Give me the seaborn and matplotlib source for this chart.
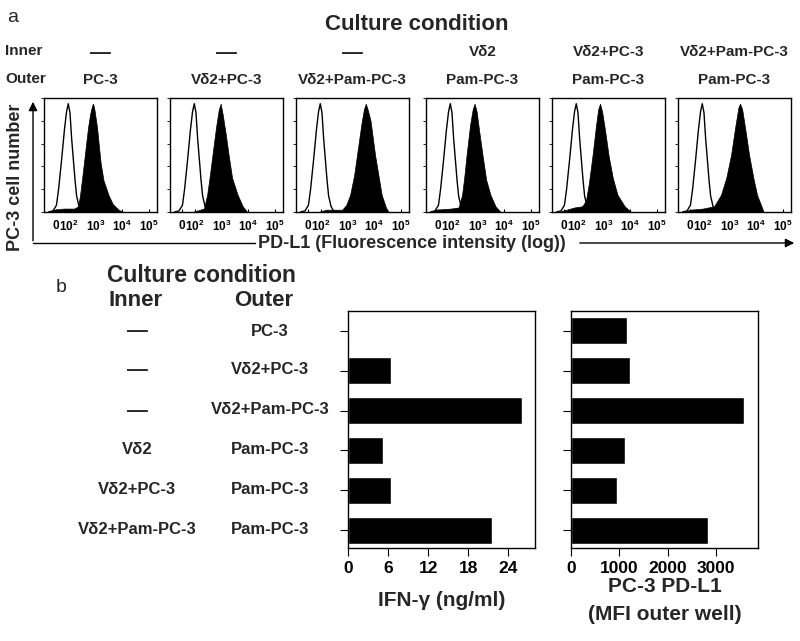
import numpy as np
import seaborn as sns
import matplotlib.pyplot as plt
from matplotlib.patches import FancyArrowPatch
from matplotlib.lines import Line2D

sns.set_style("ticks")
plt.rcParams['font.family'] = ['Liberation Sans', 'DejaVu Sans']
plt.rcParams['axes.edgecolor'] = 'black'
plt.rcParams['xtick.color'] = 'black'
plt.rcParams['ytick.color'] = 'black'
plt.rcParams['mathtext.fontset'] = 'custom'
plt.rcParams['mathtext.rm'] = 'Liberation Sans'
plt.rcParams['mathtext.bf'] = 'Liberation Sans:bold'

# culture conditions (same order in a and b)
inner_labels = ["—", "—", "—", "Vδ2", "Vδ2+PC-3", "Vδ2+Pam-PC-3"]
outer_labels = ["PC-3", "Vδ2+PC-3", "Vδ2+Pam-PC-3", "Pam-PC-3", "Pam-PC-3", "Pam-PC-3"]

# panel b values
ifn_gamma = [0.2, 6.5, 26.1, 5.2, 6.5, 21.5]
pdl1_mfi = [1150, 1215, 3575, 1110, 955, 2830]

# panel a flow histograms, x in decades (3 = 10^3), y = relative cell number
isotype_x = [1.23, 1.40, 1.53, 1.61, 1.72, 1.83, 1.91, 1.975, 2.04, 2.10, 2.17, 2.23, 2.29, 2.38, 2.46, 2.59]
isotype_y = [0.0, 0.01, 0.06, 0.20, 0.45, 0.72, 0.88, 0.95, 0.87, 0.65, 0.45, 0.28, 0.14, 0.05, 0.015, 0.0]

pdl1_x = [
    [1.25, 1.4, 1.8, 2.2, 2.35, 2.42, 2.50, 2.57, 2.65, 2.72, 2.80, 2.87, 2.91, 2.96, 3.06, 3.12, 3.19, 3.30, 3.49, 3.65, 3.87, 4.04],
    [1.9, 2.2, 2.34, 2.46, 2.55, 2.66, 2.80, 2.90, 2.97, 3.05, 3.15, 3.27, 3.40, 3.61, 3.80, 3.97],
    [1.9, 2.2, 2.80, 2.95, 3.10, 3.25, 3.36, 3.53, 3.62, 3.69, 3.76, 3.87, 4.04, 4.29, 4.45, 4.55],
    [1.3, 1.4, 2.0, 2.29, 2.42, 2.50, 2.59, 2.72, 2.82, 2.89, 2.97, 3.07, 3.19, 3.33, 3.49, 3.68, 3.87],
    [1.3, 1.91, 2.20, 2.34, 2.45, 2.59, 2.72, 2.80, 2.87, 2.95, 3.07, 3.19, 3.35, 3.53, 3.80, 4.04],
    [1.3, 1.5, 2.0, 2.42, 2.55, 2.68, 2.88, 3.06, 3.22, 3.34, 3.40, 3.48, 3.60, 3.74, 3.90, 4.04, 4.29],
]
pdl1_y = [
    [0.0, 0.02, 0.03, 0.03, 0.05, 0.15, 0.30, 0.44, 0.60, 0.74, 0.86, 0.93, 0.95, 0.90, 0.74, 0.60, 0.44, 0.28, 0.15, 0.07, 0.02, 0.0],
    [0.0, 0.02, 0.03, 0.15, 0.30, 0.50, 0.75, 0.90, 0.95, 0.85, 0.70, 0.50, 0.30, 0.15, 0.05, 0.0],
    [0.0, 0.02, 0.02, 0.06, 0.15, 0.32, 0.50, 0.78, 0.90, 0.95, 0.90, 0.80, 0.50, 0.15, 0.04, 0.0],
    [0.0, 0.02, 0.03, 0.04, 0.15, 0.30, 0.50, 0.76, 0.90, 0.95, 0.88, 0.70, 0.50, 0.28, 0.15, 0.05, 0.0],
    [0.0, 0.04, 0.05, 0.10, 0.25, 0.50, 0.76, 0.90, 0.95, 0.88, 0.70, 0.50, 0.30, 0.15, 0.05, 0.0],
    [0.0, 0.02, 0.03, 0.05, 0.10, 0.15, 0.30, 0.50, 0.75, 0.92, 0.95, 0.90, 0.72, 0.50, 0.30, 0.15, 0.0],
]

hist_ticks = [1.5, 2, 3, 4, 5]
hist_ticklabels = [r'$\mathbf{0^{\ }}$', r'$\mathbf{10^{2}}$', r'$\mathbf{10^{3}}$', r'$\mathbf{10^{4}}$', r'$\mathbf{10^{5}}$']

W, H = 800, 641


def box(l, t, r, b):
    return [l / W, 1 - b / H, (r - l) / W, (b - t) / H]


def pt(x, y):
    return (x / W, 1 - y / H)


fig = plt.figure(figsize=(8, 6.41), dpi=100)

# ---------- panel a ----------
fig.text(*pt(7, 17), 'a', fontsize=14, va='center', ha='left')
fig.text(*pt(417, 24), 'Culture condition', fontsize=16, weight='bold', ha='center', va='center')
fig.text(*pt(5, 51), 'Inner', fontsize=11, weight='bold', ha='left', va='center')
fig.text(*pt(5, 79), 'Outer', fontsize=11, weight='bold', ha='left', va='center')

hist_left = [44, 170, 296, 426, 552, 678]
for i in range(6):
    l = hist_left[i]
    ax = fig.add_axes(box(l, 98, l + 113, 212))
    ax.fill_between(pdl1_x[i], pdl1_y[i], color='black', lw=0.5)
    sns.lineplot(x=isotype_x, y=isotype_y, ax=ax, color='black', lw=1.0, sort=False, estimator=None)
    ax.set_xlim(1.06, 5.32)
    ax.set_ylim(0, 1.0)
    ax.set_xticks(hist_ticks)
    ax.set_xticklabels(hist_ticklabels, fontsize=8.5, weight='bold')
    ax.set_yticks([0, 0.2, 0.4, 0.6, 0.8, 1.0])
    ax.set_yticklabels([])
    ax.tick_params(axis='x', direction='in', length=2.5, pad=5, width=0.8)
    ax.tick_params(axis='y', direction='out', length=2, width=0.6)
    ax.set_xlabel('')
    ax.set_ylabel('')
    for s in ax.spines.values():
        s.set_linewidth(1.0)
    cx = l + 56.5
    fs = 15 if inner_labels[i] == "—" else 11
    fig.text(*pt(cx, 52), inner_labels[i], fontsize=fs, weight='bold', ha='center', va='center')
    fig.text(*pt(cx, 80), outer_labels[i], fontsize=11, weight='bold', ha='center', va='center')

fig.text(*pt(16, 177), 'PC-3 cell number', rotation=90, fontsize=13, weight='bold', ha='center', va='center')
fig.text(*pt(412, 243), 'PD-L1 (Fluorescence intensity (log))', fontsize=13, weight='bold', ha='center', va='center')
fig.add_artist(Line2D([33 / W, 255 / W], [1 - 243 / H, 1 - 243 / H], color='black', lw=1.0))
fig.add_artist(FancyArrowPatch(pt(33, 243.5), pt(33, 99), transform=fig.transFigure,
                               arrowstyle='-|>', mutation_scale=13, color='black', lw=1.0))
fig.add_artist(FancyArrowPatch(pt(577, 243), pt(797, 243), transform=fig.transFigure,
                               arrowstyle='-|>', mutation_scale=13, color='black', lw=1.0))

# ---------- panel b ----------
fig.text(*pt(56, 288), 'b', fontsize=14, va='center', ha='left')
fig.text(*pt(107, 275), 'Culture condition', fontsize=16.5, weight='bold', ha='left', va='center')
fig.text(*pt(108, 301), 'Inner', fontsize=16, weight='bold', ha='left', va='center')
fig.text(*pt(234, 301), 'Outer', fontsize=16, weight='bold', ha='left', va='center')

row_y = [331, 370, 410, 450, 490, 530]
for i in range(6):
    fs = 15 if inner_labels[i] == "—" else 12
    fig.text(*pt(137, row_y[i]), inner_labels[i], fontsize=fs, weight='bold', ha='center', va='center')
    fig.text(*pt(270, row_y[i]), outer_labels[i], fontsize=12, weight='bold', ha='center', va='center')

rows = list(range(6))
ax1 = fig.add_axes(box(348, 311, 535, 548))
sns.barplot(x=ifn_gamma, y=rows, orient='h', color='black', saturation=1, width=0.68, ax=ax1)
ax1.set_xlim(0, 28)
ax1.set_xticks([0, 6, 12, 18, 24])

ax2 = fig.add_axes(box(571, 311, 758, 548))
sns.barplot(x=pdl1_mfi, y=rows, orient='h', color='black', saturation=1, width=0.68, ax=ax2)
ax2.set_xlim(0, 3870)
ax2.set_xticks([0, 1000, 2000, 3000])

for ax in (ax1, ax2):
    ax.set_ylim(5.45, -0.5)
    ax.set_yticks(rows)
    ax.set_yticklabels([])
    ax.set_ylabel('')
    ax.tick_params(axis='both', direction='out', length=5.5, width=0.8)
    ax.tick_params(axis='x', pad=4, labelsize=12.5)
    for lab in ax.get_xticklabels():
        lab.set_fontweight('bold')
    for s in ax.spines.values():
        s.set_linewidth(1.0)

ax1.set_xlabel('IFN-γ (ng/ml)', fontsize=15, weight='bold')
ax2.set_xlabel('PC-3 PD-L1\n(MFI outer well)', fontsize=15, weight='bold', linespacing=1.6)
for ax in (ax1, ax2):
    ax.xaxis.set_label_coords(0.5, -(601 - 548) / 237)
    ax.xaxis.label.set_va('center')

fig.savefig('out.png', dpi=100)
